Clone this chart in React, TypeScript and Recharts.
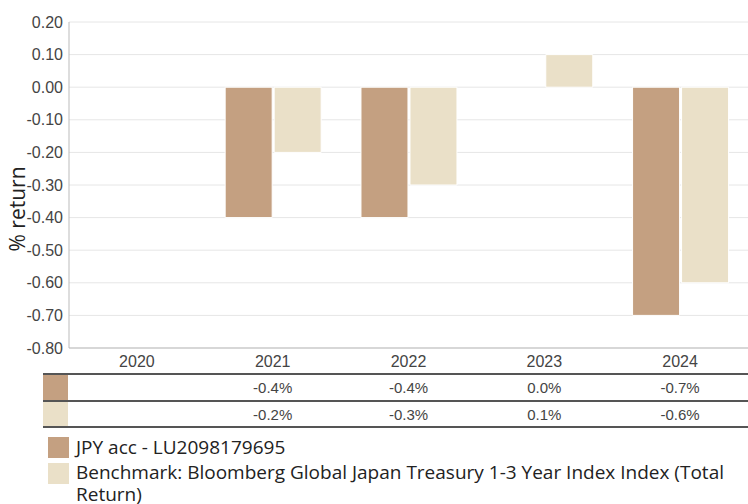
import { BarChart, Bar, XAxis, YAxis, CartesianGrid } from 'recharts';

const years = ['2020', '2021', '2022', '2023', '2024'];
const fundReturns: (number | null)[] = [null, -0.4, -0.4, 0.0, -0.7];
const benchReturns: (number | null)[] = [null, -0.2, -0.3, 0.1, -0.6];
const yTicks = [0.2, 0.1, 0, -0.1, -0.2, -0.3, -0.4, -0.5, -0.6, -0.7, -0.8];

const fundName = 'JPY acc - LU2098179695';
const benchName = 'Benchmark: Bloomberg Global Japan Treasury 1-3 Year Index Index (Total Return)';

const FUND = '#c4a081';
const BENCH = '#eae0c8';

const data = years.map((y, i) => ({ year: y, fund: fundReturns[i], bench: benchReturns[i] }));

const tickFont = { fontFamily: 'Liberation Sans, Arial, sans-serif', fontSize: 16, fill: '#444' };
const legendFont = 'Open Sans, Noto Sans, sans-serif';

const fmt = (v: number | null) => (v === null ? '' : `${v.toFixed(1)}%`);

export default function App() {
  const plotLeft = 69;
  const bandW = (748 - plotLeft) / years.length;

  const row = (vals: (number | null)[], color: string, top: number) => (
    <div style={{ position: 'absolute', left: 43, top, width: 705, height: 25 }}>
      <div style={{ position: 'absolute', left: 0, top: 0, width: 25, height: 25, background: color }} />
      {vals.map((v, i) => (
        <div
          key={i}
          style={{
            position: 'absolute',
            left: plotLeft - 43 + i * bandW,
            width: bandW,
            top: 0,
            height: 25,
            lineHeight: '25px',
            textAlign: 'center',
            fontFamily: tickFont.fontFamily,
            fontSize: 15,
            color: '#444',
          }}
        >
          {fmt(v)}
        </div>
      ))}
    </div>
  );

  return (
    <div style={{ position: 'absolute', left: 0, top: 0, width: 748, height: 504, background: '#fff', overflow: 'hidden' }}>
      <BarChart
        width={748}
        height={380}
        data={data}
        margin={{ top: 22, right: 0, bottom: 0, left: 0 }}
        barCategoryGap="15%"
        barGap={2}
      >
        <CartesianGrid vertical={false} stroke="#e6e6e6" />
        <XAxis
          dataKey="year"
          height={32}
          tickLine={false}
          axisLine={{ stroke: '#bbb' }}
          tick={tickFont}
          tickMargin={2}
        />
        <YAxis
          width={69}
          domain={[-0.8, 0.2]}
          ticks={yTicks}
          interval={0}
          tickFormatter={(v: number) => v.toFixed(2)}
          tickLine={false}
          axisLine={{ stroke: '#bbb' }}
          tick={tickFont}
          tickMargin={0}
          label={{
            content: () => (
              <text
                x={25}
                y={209}
                transform="rotate(-90 25 209)"
                textAnchor="middle"
                fontFamily={legendFont}
                fontSize={21}
                fill="#222"
              >
                % return
              </text>
            ),
          }}
        />
        <Bar dataKey="fund" name={fundName} fill={FUND} stroke="#fff" strokeWidth={1} isAnimationActive={false} />
        <Bar dataKey="bench" name={benchName} fill={BENCH} stroke="#fff" strokeWidth={1} isAnimationActive={false} />
      </BarChart>

      <div style={{ position: 'absolute', left: 43, top: 373, width: 705, height: 2, background: '#555' }} />
      {row(fundReturns, FUND, 375)}
      <div style={{ position: 'absolute', left: 43, top: 400, width: 705, height: 2, background: '#555' }} />
      {row(benchReturns, BENCH, 402)}
      <div style={{ position: 'absolute', left: 43, top: 426, width: 705, height: 2, background: '#555' }} />

      <div style={{ position: 'absolute', left: 48, top: 437, width: 21, height: 21, background: FUND }} />
      <div
        style={{
          position: 'absolute',
          left: 76,
          top: 436,
          fontFamily: legendFont,
          fontSize: 19,
          lineHeight: '22px',
          color: '#222',
        }}
      >
        {fundName}
      </div>
      <div style={{ position: 'absolute', left: 48, top: 463, width: 21, height: 21, background: BENCH }} />
      <div
        style={{
          position: 'absolute',
          left: 76,
          top: 461,
          width: 668,
          fontFamily: legendFont,
          fontSize: 19,
          lineHeight: '22px',
          color: '#222',
        }}
      >
        {benchName}
      </div>
    </div>
  );
}
